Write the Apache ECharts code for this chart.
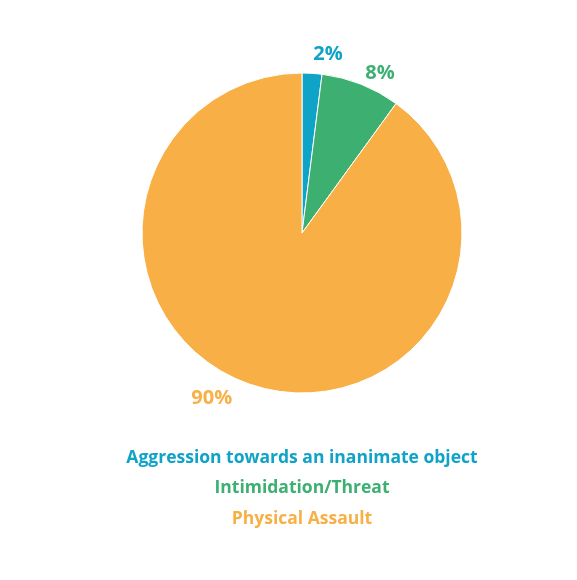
<!DOCTYPE html>
<html>
<head>
<meta charset="utf-8">
<script src="https://cdn.jsdelivr.net/npm/echarts@6/dist/echarts.min.js"></script>
<style>
  html, body { margin: 0; padding: 0; background: #fff; }
  #chart { width: 577px; height: 580px; }
</style>
</head>
<body>
<div id="chart"></div>
<script>
const categories = ['Aggression towards an inanimate object', 'Intimidation/Threat', 'Physical Assault'];
const shares = [2, 8, 90];
const colors = ['#0ea3c7', '#3caf71', '#f8b046'];
const keyTops = [449, 479, 510];

const chart = echarts.init(document.getElementById('chart'));
const font = '"Open Sans", "Noto Sans", sans-serif';

// hidden label lines only used to push each percentage away from the pie
const labelLines = [
  { show: false, length: 19, length2: 0 },
  { show: false, length: 12, length2: 0 },
  { show: false, length: 14, length2: 16 }
];

chart.setOption({
  animation: false,
  color: colors,
  // the key is plain coloured text, one line per category, centred under the pie
  title: categories.map((name, i) => ({
    text: name,
    left: 302,
    top: keyTops[i],
    textAlign: 'center',
    padding: 0,
    textStyle: { fontFamily: font, fontSize: 17.5, fontWeight: 'bold', color: colors[i] }
  })),
  series: [{
    type: 'pie',
    center: [302, 233],
    radius: 160,
    startAngle: 90,
    clockwise: true,
    avoidLabelOverlap: false,
    itemStyle: { borderColor: '#fff', borderWidth: 1 },
    label: {
      show: true,
      position: 'outside',
      formatter: '{c}%',
      fontFamily: font,
      fontSize: 20,
      fontWeight: 'bold',
      distanceToLabelLine: 0
    },
    data: categories.map((name, i) => ({
      name,
      value: shares[i],
      label: { color: colors[i] },
      labelLine: labelLines[i]
    }))
  }]
});
</script>
</body>
</html>
